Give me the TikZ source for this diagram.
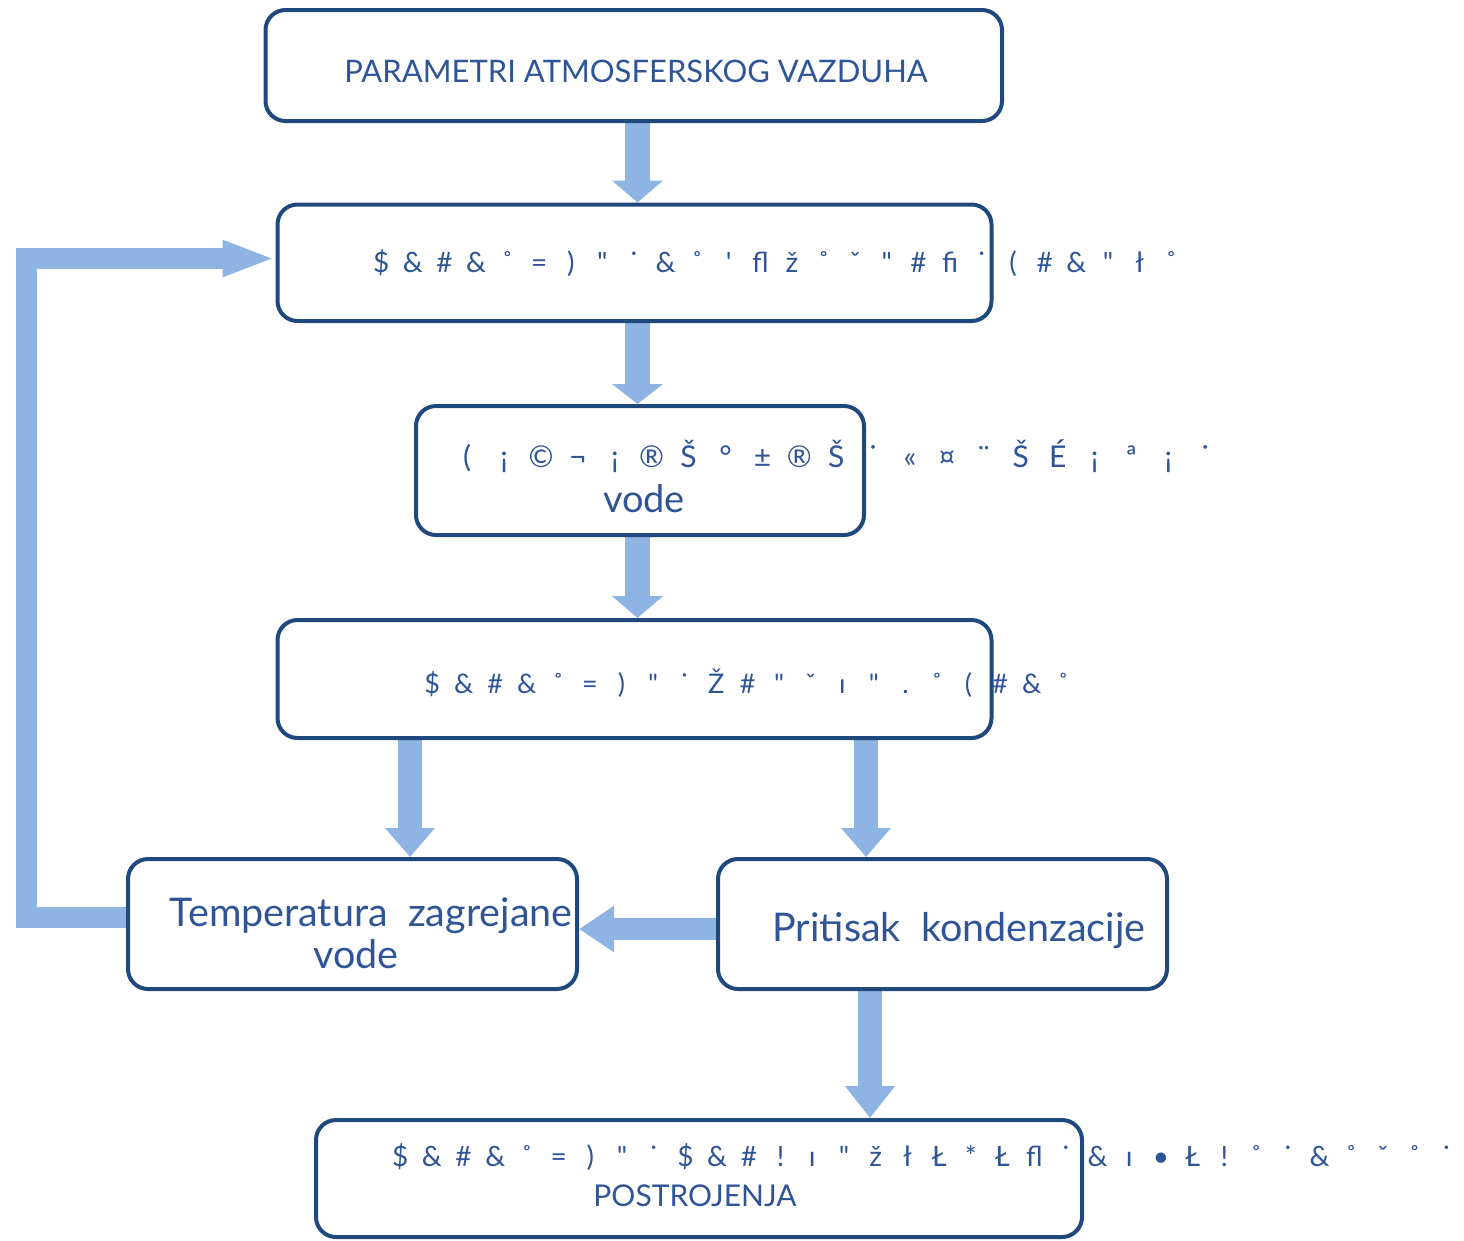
\documentclass[tikz,border=0pt]{standalone}
\usepackage{fontspec}
\setmainfont{Lato}
\usetikzlibrary{arrows.meta,backgrounds}
\definecolor{boxc}{HTML}{1F497D}
\definecolor{txtc}{HTML}{2F5597}
\definecolor{arrc}{HTML}{8DB4E2}
\newlength\gpitch
\newcommand\gch[1]{\makebox[\gpitch][c]{#1}}
\newcommand\dq{\textquotedbl}
\begin{document}
\begin{tikzpicture}[x=1pt,y=-1pt,
  box/.style={draw=boxc, line width=4pt, rounded corners=20pt, fill=white, inner sep=0pt},
  lbl/.style={text=txtc, inner sep=0pt, anchor=base},
  garb/.style={text=txtc, inner sep=0pt, anchor=base west},
  barrow/.style n args={3}{draw=arrc, line width=#1pt, -{Triangle[length=#2pt,width=#3pt]}}]
\useasboundingbox (0,0) rectangle (1464,1240);
% boxes
\node[box, minimum width=736.5pt, minimum height=111pt] (b1) at (633.75,65.5) {};
\node[box, minimum width=714pt, minimum height=116.5pt] (b2) at (634.5,262.75) {};
\node[box, minimum width=448pt, minimum height=129pt] (b3) at (640,470.5) {};
\node[box, minimum width=714pt, minimum height=118pt] (b4) at (634.5,679) {};
\node[box, minimum width=449pt, minimum height=130pt] (b5) at (352.5,924) {};
\node[box, minimum width=449pt, minimum height=130pt] (b6) at (942.5,924) {};
\node[box, minimum width=766pt, minimum height=117pt] (b7) at (699,1178.5) {};
% connector helper coordinates
\coordinate (cx) at (637.5,0);
\coordinate (lx) at (410,0);
\coordinate (rx) at (866,0);
\coordinate (bx) at (870,0);
\coordinate (hy) at (0,929);
\coordinate (fy) at (0,917.5);
\coordinate (fc) at (26.5,258.5);
\begin{scope}[on background layer]
\draw[barrow={25}{22}{50}] (b1.south -| cx) -- (b2.north -| cx);
\draw[barrow={25}{20}{50}] (b2.south -| cx) -- (b3.north -| cx);
\draw[barrow={25}{22}{50}] (b3.south -| cx) -- (b4.north -| cx);
\draw[barrow={24}{29}{48}] (b4.south -| lx) -- (b5.north -| lx);
\draw[barrow={24}{29}{48}] (b4.south -| rx) -- (b6.north -| rx);
\draw[barrow={24}{32}{48}] (b6.south -| bx) -- (b7.north -| bx);
\draw[barrow={22}{35}{44}] (b6.west |- hy) -- (b5.east |- hy);
\draw[barrow={21}{53}{33}] (b5.west |- fy) -| (fc) -- (b2.west |- fc);
\end{scope}
% texts
\node[lbl, font=\fontsize{31}{38}\selectfont] (t1) at (636,82) {PARAMETRI ATMOSFERSKOG VAZDUHA};
\node[garb, font=\fontsize{28}{34}\selectfont] (t2) at (365.2,272) {\setlength\gpitch{31.6pt}%
\gch{\$}\gch{\&}\gch{\#}\gch{\&}\gch{˚}\gch{=}\gch{)}\gch{\dq}\gch{˙}\gch{\&}\gch{˚}\gch{\textquotesingle}\gch{fl}\gch{ž}\gch{˚}\gch{ˇ}\gch{\dq}\gch{\#}\gch{fi}\gch{˙}\gch{(}\gch{\#}\gch{\&}\gch{\dq}\gch{ł}\gch{˚}};
\node[garb, font=\fontsize{30}{36}\selectfont] (t3) at (448.55,467) {\setlength\gpitch{36.9pt}%
\gch{(}\gch{¡}\gch{©}\gch{¬}\gch{¡}\gch{®}\gch{Š}\gch{°}\gch{±}\gch{®}\gch{Š}\gch{˙}\gch{«}\gch{¤}\gch{¨}\gch{Š}\gch{É}\gch{¡}\gch{ª}\gch{¡}\gch{˙}};
\node[lbl, font=\fontsize{38}{46}\selectfont] (t3b) at (644,512) {vode};
\node[garb, font=\fontsize{27}{34}\selectfont] (t4) at (416.2,693) {\setlength\gpitch{31.55pt}%
\gch{\$}\gch{\&}\gch{\#}\gch{\&}\gch{˚}\gch{=}\gch{)}\gch{\dq}\gch{˙}\gch{Ž}\gch{\#}\gch{\dq}\gch{ˇ}\gch{ı}\gch{\dq}\gch{.}\gch{˚}\gch{(}\gch{\#}\gch{\&}\gch{˚}};
\node[lbl, font=\fontsize{39.5}{46}\selectfont] (t5a) at (371,926) {Temperatura\ \ zagrejane};
\node[lbl, font=\fontsize{39.5}{46}\selectfont] (t5b) at (356,968) {vode};
\node[lbl, font=\fontsize{39.5}{46}\selectfont] (t6) at (959,941) {Pritisak\ \ kondenzacije};
\node[garb, font=\fontsize{28}{34}\selectfont] (t7) at (384.15,1166) {\setlength\gpitch{31.7pt}%
\gch{\$}\gch{\&}\gch{\#}\gch{\&}\gch{˚}\gch{=}\gch{)}\gch{\dq}\gch{˙}\gch{\$}\gch{\&}\gch{\#}\gch{!}\gch{ı}\gch{\dq}\gch{ž}\gch{ł}\gch{Ł}\gch{*}\gch{Ł}\gch{fl}\gch{˙}\gch{\&}\gch{ı}\gch{•}\gch{Ł}\gch{!}\gch{˚}\gch{˙}\gch{\&}\gch{˚}\gch{ˇ}\gch{˚}\gch{˙}};
\node[lbl, font=\fontsize{30}{36}\selectfont] (t7b) at (695,1206) {POSTROJENJA};
\end{tikzpicture}
\end{document}
